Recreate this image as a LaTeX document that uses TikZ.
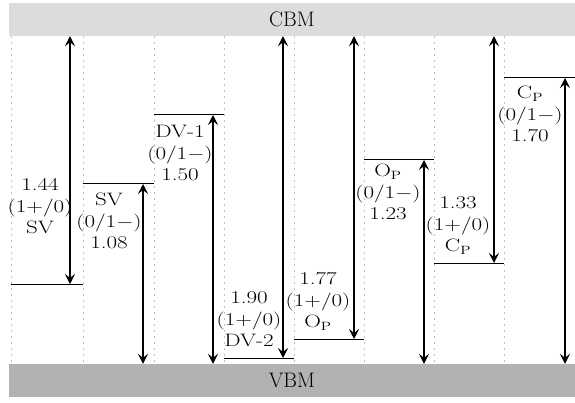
\documentclass[tikz,border=0pt]{standalone}
\usetikzlibrary{arrows.meta}
\definecolor{cbmcol}{RGB}{220,220,222}
\definecolor{vbmcol}{RGB}{178,178,178}
\definecolor{gridcol}{RGB}{190,190,190}
\newcommand{\lab}[1]{\scalebox{1.28}[1]{\fontsize{18}{21.5}\selectfont\begin{tabular}{@{}c@{}}#1\end{tabular}}}
\newcommand{\mn}{$-$}
\tikzset{
  band/.style={rectangle, draw=none, inner sep=0pt, minimum width=566pt, minimum height=33pt, font=\fontsize{21}{24}\selectfont},
  gridline/.style={gridcol, line width=0.8pt, dash pattern=on 2pt off 4pt},
  level/.style={black, line width=1pt},
  dbl/.style={black, line width=1.1pt, {Stealth[length=10pt,width=10pt,inset=4pt]}-{Stealth[length=10pt,width=10pt,inset=4pt]}},
  labnode/.style={inner sep=0pt, anchor=center}
}
\begin{document}
\begin{tikzpicture}[x=1pt,y=-1pt]
\useasboundingbox (0,0) rectangle (575,403);
\node[band, fill=cbmcol] (cbm) at (292,19.5) {CBM};
\node[band, fill=vbmcol] (vbm) at (292,380.5) {VBM};
\foreach \x in {11,83,154,224,294,364,434,504} \draw[gridline] (\x,36) -- (\x,364);
% levels
\coordinate (l1a) at (11,284);  \coordinate (l1b) at (83,284);
\coordinate (l2a) at (83,184);  \coordinate (l2b) at (154,184);
\coordinate (l3a) at (154,115); \coordinate (l3b) at (224,115);
\coordinate (l4a) at (224,358); \coordinate (l4b) at (294,358);
\coordinate (l5a) at (294,339); \coordinate (l5b) at (364,339);
\coordinate (l6a) at (364,160); \coordinate (l6b) at (434,160);
\coordinate (l7a) at (434,263); \coordinate (l7b) at (504,263);
\coordinate (l8a) at (504,78);  \coordinate (l8b) at (575,78);
\foreach \i in {1,...,8} \draw[level] (l\i a) -- (l\i b);
% arrow anchors on levels
\coordinate (a1) at (70,284);
\coordinate (a2) at (143,184);
\coordinate (a3) at (213,115);
\coordinate (a4) at (283,358);
\coordinate (a5) at (354,339);
\coordinate (a6) at (424,160);
\coordinate (a7) at (494,263);
\coordinate (a8) at (565,78);
\draw[dbl] (a1) -- (a1 |- cbm.south);
\draw[dbl] (a2) -- (a2 |- vbm.north);
\draw[dbl] (a3) -- (a3 |- vbm.north);
\draw[dbl] (a4) -- (a4 |- cbm.south);
\draw[dbl] (a5) -- (a5 |- cbm.south);
\draw[dbl] (a6) -- (a6 |- vbm.north);
\draw[dbl] (a7) -- (a7 |- cbm.south);
\draw[dbl] (a8) -- (a8 |- vbm.north);
% labels
\node[labnode] (t1) at (40,208) {\lab{1.44\\(1+/0)\\SV}};
\node[labnode] (t2) at (109,223) {\lab{SV\\(0/1\mn)\\1.08}};
\node[labnode] (t3) at (180,155) {\lab{DV-1\\(0/1\mn)\\1.50}};
\node[labnode] (t4) at (249,321) {\lab{1.90\\(1+/0)\\DV-2}};
\node[labnode] (t5) at (318,302) {\lab{1.77\\(1+/0)\\O$_\mathrm{P}$}};
\node[labnode] (t6) at (388,194) {\lab{O$_\mathrm{P}$\\(0/1\mn)\\1.23}};
\node[labnode] (t7) at (458,226) {\lab{1.33\\(1+/0)\\C$_\mathrm{P}$}};
\node[labnode] (t8) at (530,116) {\lab{C$_\mathrm{P}$\\(0/1\mn)\\1.70}};
\end{tikzpicture}
\end{document}
